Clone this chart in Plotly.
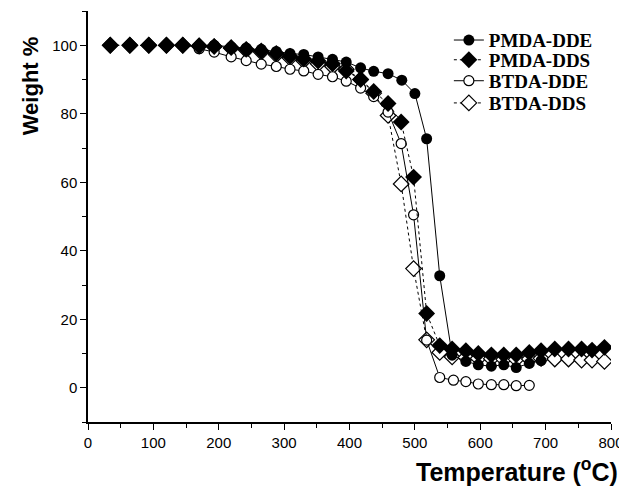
import plotly.graph_objects as go

# ---- data ----
t_pmda_dde = [193, 219, 242, 265, 288, 309, 330, 352, 374, 395, 417, 437, 459, 480, 500,
              518, 538, 557, 578, 597, 617, 636, 655, 675, 693]
w_pmda_dde = [100, 99.5, 99.2, 98.8, 98.2, 97.6, 97.3, 96.6, 95.9, 95.1, 93.4, 92.4, 91.7, 89.8, 85.9,
              72.7, 32.7, 9.5, 7.7, 6.7, 6.3, 6.7, 5.9, 7.1, 7.9]

t_pmda_dds = [34, 64, 93, 120, 145, 170, 193, 219, 242, 265, 288, 309, 330, 352, 374, 395, 417, 437,
              459, 479, 498, 518, 538, 557, 578, 597, 617, 636, 655, 675, 693, 714, 735, 755, 771, 790]
w_pmda_dds = [100, 100, 100, 100, 100, 99.8, 99.6, 99.3, 98.8, 98.3, 97.6, 96.8, 96.0, 95.4, 94.6, 92.5, 90.0, 86.5,
              83.0, 77.6, 61.5, 21.7, 12.3, 11.3, 10.8, 10.0, 9.6, 9.6, 9.6, 10.3, 10.8, 11.3, 11.3, 11.3, 11.0, 11.8]

t_btda_dde = [170, 193, 219, 242, 265, 288, 309, 330, 352, 374, 395, 417, 437, 459, 479, 498,
              518, 538, 559, 578, 597, 617, 636, 655, 675]
w_btda_dde = [99.0, 98.0, 96.6, 95.5, 94.5, 93.8, 93.0, 92.5, 91.5, 90.8, 89.5, 87.5, 85.0, 80.5, 71.3, 50.5,
              13.9, 3.0, 2.2, 1.8, 1.1, 0.9, 0.9, 0.6, 0.7]

t_btda_dds = [34, 64, 93, 120, 145, 170, 193, 219, 242, 265, 288, 309, 330, 352, 374, 395, 417, 437,
              459, 479, 498, 518, 538, 557, 578, 597, 617, 636, 655, 675, 693, 714, 735, 755, 771, 790]
w_btda_dds = [100, 100, 100, 100, 100, 99.8, 99.6, 99.2, 98.6, 98.0, 97.2, 96.3, 95.5, 94.6, 93.8, 93.0, 90.0, 86.0,
              79.5, 59.5, 34.8, 14.0, 10.3, 9.0, 8.8, 8.6, 8.5, 8.3, 8.3, 8.4, 8.6, 8.4, 8.4, 8.1, 8.1, 7.7]

x_ticks = [0, 100, 200, 300, 400, 500, 600, 700, 800]
y_ticks = [0, 20, 40, 60, 80, 100]

fig = go.Figure()

# draw order: open markers underneath, filled on top; each entry gets its own legend box
fig.add_trace(go.Scatter(x=t_btda_dds, y=w_btda_dds, name="BTDA-DDS", mode="lines+markers",
                         line=dict(color="black", width=1, dash="dot"),
                         marker=dict(symbol="diamond", size=12, color="white", line=dict(color="black", width=1.2)),
                         legend="legend4"))
fig.add_trace(go.Scatter(x=t_btda_dde, y=w_btda_dde, name="BTDA-DDE", mode="lines+markers",
                         line=dict(color="black", width=1),
                         marker=dict(symbol="circle", size=10, color="white", line=dict(color="black", width=1.2)),
                         legend="legend3"))
fig.add_trace(go.Scatter(x=t_pmda_dde, y=w_pmda_dde, name="PMDA-DDE", mode="lines+markers",
                         line=dict(color="black", width=1),
                         marker=dict(symbol="circle", size=11, color="black"),
                         legend="legend"))
fig.add_trace(go.Scatter(x=t_pmda_dds, y=w_pmda_dds, name="PMDA-DDS", mode="lines+markers",
                         line=dict(color="black", width=1, dash="dot"),
                         marker=dict(symbol="diamond", size=13, color="black"),
                         legend="legend2"))

leg_font = dict(family="Liberation Serif", size=19, color="black", weight="bold")
def leg(y):
    return dict(x=0.69, y=y, xanchor="left", yanchor="middle", font=leg_font,
                bgcolor="rgba(0,0,0,0)", borderwidth=0)

# page is offset by the browser's 8px body margin; compensate in size/margins
fig.update_layout(
    width=619, height=480,
    margin=dict(l=80, r=14, t=3, b=66),
    paper_bgcolor="white", plot_bgcolor="white",
    showlegend=True,
    legend=leg(0.929), legend2=leg(0.881), legend3=leg(0.830), legend4=leg(0.776),
    font=dict(family="Liberation Sans", color="black"),
)
fig.update_xaxes(range=[0, 800], tickvals=x_ticks, ticktext=[str(v) for v in x_ticks],
                 showgrid=False, zeroline=False, showline=True, linecolor="black", linewidth=1.5,
                 ticks="outside", ticklen=6, tickwidth=1.2, tickcolor="black",
                 tickfont=dict(family="Liberation Sans", size=15, color="black"),
                 minor=dict(dtick=50, tick0=0, ticks="outside", ticklen=4, tickcolor="black", tickwidth=1))
fig.update_yaxes(range=[-10, 110], tickvals=y_ticks, ticktext=[str(v) for v in y_ticks],
                 showgrid=False, zeroline=False, showline=True, linecolor="black", linewidth=1.5,
                 ticks="outside", ticklen=6, tickwidth=1.2, tickcolor="black",
                 tickfont=dict(family="Liberation Sans", size=15, color="black"),
                 minor=dict(dtick=10, tick0=0, ticks="outside", ticklen=4, tickcolor="black", tickwidth=1))

fig.add_annotation(text="<b>Weight %</b>", xref="paper", yref="paper", x=-0.11, y=0.818,
                   xanchor="center", yanchor="middle", textangle=-90, showarrow=False,
                   font=dict(family="Liberation Sans", size=22, color="black"))
fig.add_annotation(text="<b>Temperature (<sup>o</sup>C)</b>", xref="paper", yref="paper", x=1.017, y=-0.117,
                   xanchor="right", yanchor="middle", showarrow=False,
                   font=dict(family="Liberation Sans", size=25, color="black"))

fig.write_html("out.html")
